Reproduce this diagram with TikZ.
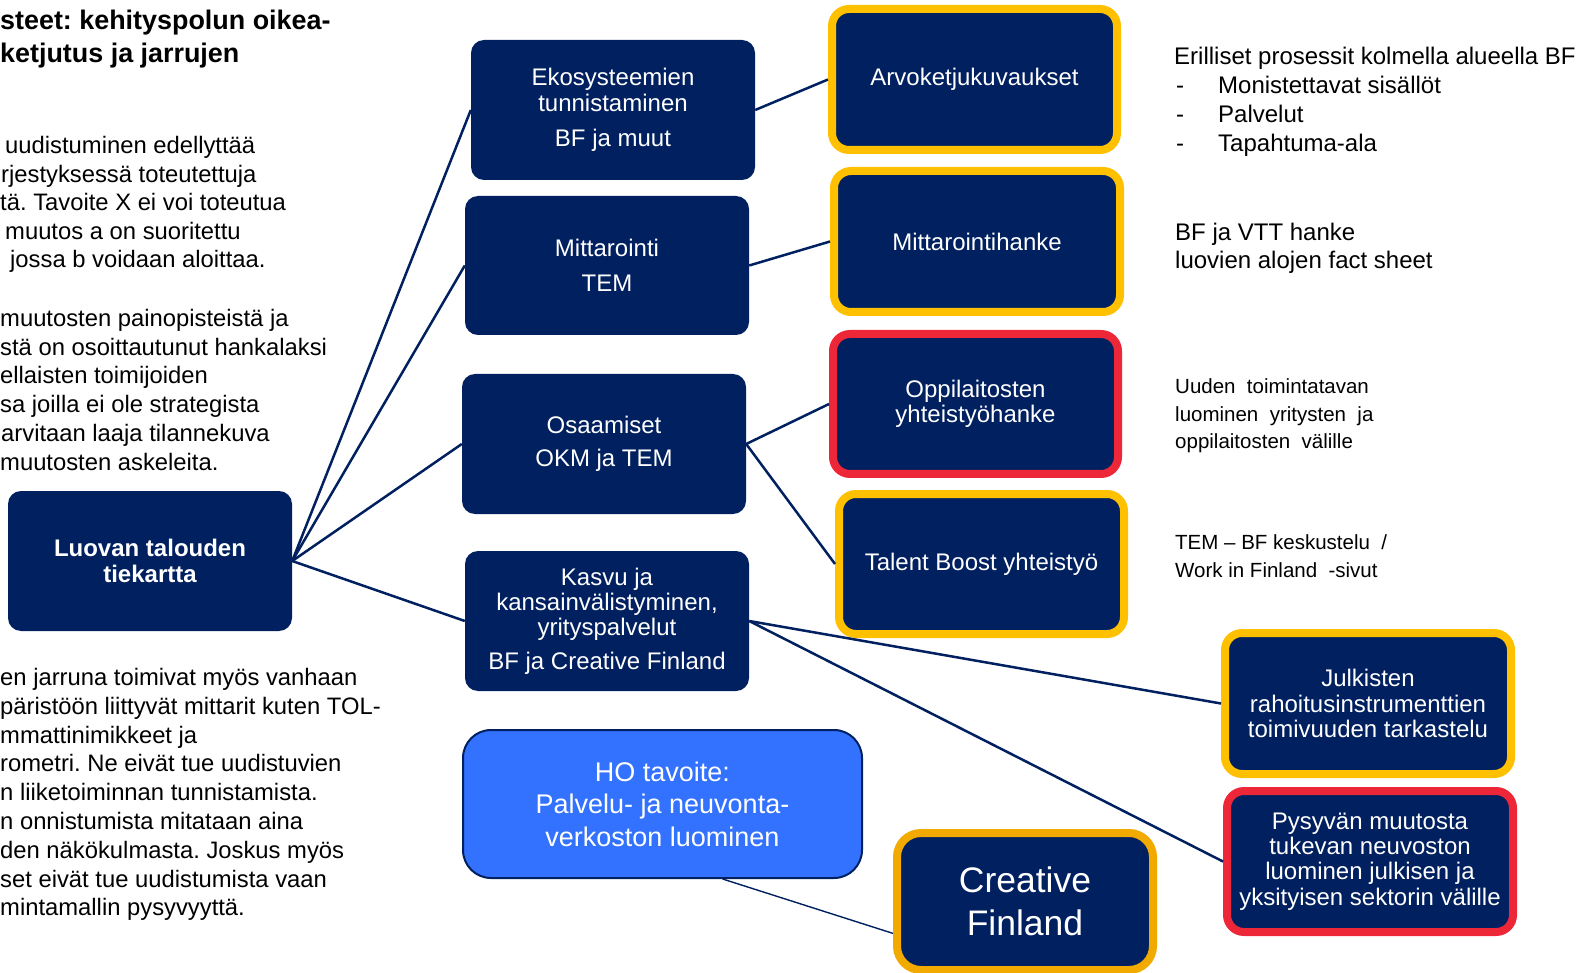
\documentclass[tikz,border=0pt]{standalone}
\usepackage{fontspec}
\setmainfont{Liberation Sans}
\usetikzlibrary{calc}
\definecolor{navy}{RGB}{0,32,96}
\definecolor{gold}{RGB}{255,192,0}
\definecolor{redb}{RGB}{237,39,56}
\definecolor{orangeb}{RGB}{242,169,0}
\definecolor{hoblue}{RGB}{51,114,255}
\frenchspacing
\begin{document}
\begin{tikzpicture}[x=1pt,y=-1pt,
  navybox/.style={fill=navy, draw=none, rounded corners=13pt, text=white, align=center,
    inner sep=0pt, minimum width=284pt, minimum height=140pt, font=\fontsize{24}{25.4}\selectfont},
  framed/.style={navybox, draw=#1, line width=8pt, rounded corners=17pt, minimum width=285pt, minimum height=141pt},
  link/.style={draw=navy, line width=2.5pt},
  para/.style={anchor=base west, inner sep=0pt, font=\fontsize{23.8}{28}\selectfont},
  side/.style={anchor=base west, inner sep=0pt, font=\fontsize{24}{28}\selectfont},
  small/.style={anchor=base west, inner sep=0pt, font=\fontsize{20.5}{27}\selectfont},
  ttl/.style={anchor=base west, inner sep=0pt, font=\fontsize{26.9}{33}\selectfont\bfseries},
]
\useasboundingbox (0,0) rectangle (1591,973);

% ---- left texts ----
\node[ttl] (t1) at (0,29.5) {steet: kehityspolun oikea-};
\node[ttl] (t2) at (0,63) {ketjutus ja jarrujen};

\foreach \t [count=\i] in {{\hspace{5pt}uudistuminen edellyttää},{\hspace{1pt}rjestyksessä toteutettuja},{tä. Tavoite X ei voi toteutua},{\hspace{5pt}muutos a on suoritettu},{\hspace{10pt}jossa b voidaan aloittaa.}}
  \node[para] (pa\i) at (0,{154+(\i-1)*28.4}) {\t};

\foreach \t [count=\i] in {{muutosten painopisteistä ja},{stä on osoittautunut hankalaksi},{ellaisten toimijoiden},{sa joilla ei ole strategista},{\hspace{1pt}arvitaan laaja tilannekuva},{muutosten askeleita.}}
  \node[para] (pb\i) at (0,{326.6+(\i-1)*28.7}) {\t};

\foreach \t [count=\i] in {{en jarruna toimivat myös vanhaan},{päristöön liittyvät mittarit kuten TOL-},{mmattinimikkeet ja},{rometri. Ne eivät tue uudistuvien},{n liiketoiminnan tunnistamista.},{n onnistumista mitataan aina},{den näkökulmasta. Joskus myös},{set eivät tue uudistumista vaan},{mintamallin pysyvyyttä.}}
  \node[para] (pc\i) at (0,{685.5+(\i-1)*28.8}) {\t};

% ---- right texts ----
\node[side] (r1) at (1174,65) {Erilliset prosessit kolmella alueella BF};
\foreach \t [count=\i] in {{Monistettavat sisällöt},{Palvelut},{Tapahtuma-ala}}{
  \node[side] (rd\i) at (1176,{94+(\i-1)*28.7}) {-};
  \node[side] (ri\i) at (1218,{94+(\i-1)*28.7}) {\t};
}
\node[side] (r2a) at (1175,240.5) {BF ja VTT hanke};
\node[side] (r2b) at (1175,269) {luovien alojen fact sheet};
\node[small] (r3a) at (1175,394) {Uuden\ \ toimintatavan};
\node[small] (r3b) at (1175,421.5) {luominen\ \ yritysten\ \ ja};
\node[small] (r3c) at (1175,449) {oppilaitosten\ \ välille};
\node[small] (r4a) at (1175,549.5) {TEM – BF keskustelu\ \ /};
\node[small] (r4b) at (1175,577) {Work in Finland\ \ -sivut};

% ---- boxes ----
\node[navybox, font=\fontsize{24}{25.4}\selectfont\bfseries] (hub) at (150,561) {Luovan talouden\\tiekartta};
\node[navybox] (eko) at (613,110) {Ekosysteemien\\tunnistaminen\\[10pt]BF ja muut};
\node[navybox, minimum height=139pt] (mit) at (607,265.5) {Mittarointi\\[9pt]TEM};
\node[navybox] (osa) at (604,444) {Osaamiset\\[8pt]OKM ja TEM};
\node[navybox] (kas) at (607,621) {Kasvu ja\\kansainvälistyminen,\\yrityspalvelut\\[8pt]BF ja Creative Finland};
\node[navybox, fill=hoblue, draw=navy, line width=2pt, rounded corners=28pt,
  minimum width=399pt, minimum height=148pt, font=\fontsize{27}{32.5}\selectfont] (ho) at (662.5,804)
  {HO tavoite:\\Palvelu- ja neuvonta-\\verkoston luominen};

\node[framed=gold] (arv) at (974.5,79.5) {Arvoketjukuvaukset};
\node[framed=gold, minimum width=286pt] (mth) at (977,241.5) {Mittarointihanke};
\node[framed=redb, minimum height=140pt] (opp) at (975.5,404) {Oppilaitosten\\yhteistyöhanke};
\node[framed=gold, minimum height=140pt] (tal) at (981.5,564) {Talent Boost yhteistyö};
\node[framed=gold, minimum width=286pt] (jul) at (1368,703.5) {Julkisten\\rahoitusinstrumenttien\\toimivuuden tarkastelu};
\node[framed=redb, minimum width=286pt] (pys) at (1370,861.5) {Pysyvän muutosta\\tukevan neuvoston\\luominen julkisen ja\\yksityisen sektorin välille};
\node[framed=orangeb, minimum width=256pt, minimum height=137pt, rounded corners=24pt,
  font=\fontsize{35.5}{42.6}\selectfont] (cf) at (1025,901.5) {Creative\\Finland};

% ---- connectors ----
\draw[link] (hub.east) -- (eko.west);
\draw[link] (hub.east) -- (mit.west);
\draw[link] (hub.east) -- (osa.west);
\draw[link] (hub.east) -- (kas.west);
\draw[link] (eko.east) -- (arv.west);
\draw[link] (mit.east) -- (mth.west);
\draw[link] (osa.east) -- (opp.west);
\draw[link] (osa.east) -- (tal.west);
\draw[link] (kas.east) -- (jul.west);
\draw[link] (kas.east) -- (pys.west);
\draw[draw=navy, line width=1.4pt] ($(ho.south west)!0.65!(ho.south east)$) -- ($(cf.north west)!0.72!(cf.south west)$);
\end{tikzpicture}
\end{document}
